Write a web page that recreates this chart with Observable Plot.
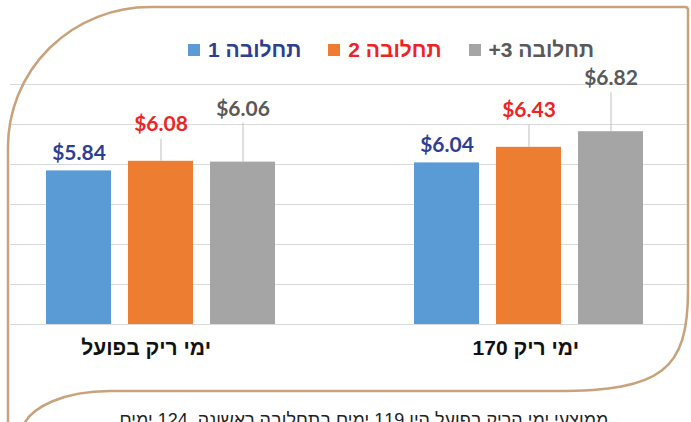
<!DOCTYPE html>
<html>
<head>
<meta charset="utf-8">
<script src="https://cdn.jsdelivr.net/npm/d3@7"></script>
<script src="https://cdn.jsdelivr.net/npm/@observablehq/plot@0.6"></script>
<style>
  body { margin: 0; background: #fff; }
  #wrap { position: relative; width: 691px; height: 422px; overflow: hidden; background: #fff; }
  #chart { position: absolute; left: 0; top: 0; }
  #legend { position: absolute; left: 188px; top: 38px; height: 24px; display: flex; align-items: center;
            font-family: "Liberation Sans", Arial, sans-serif; font-weight: bold; font-size: 21px; line-height: 24px; white-space: nowrap; }
  #legend .item { display: flex; align-items: center; margin-right: 27px; }
  #legend .sw { display: inline-block; width: 12px; height: 12px; margin-right: 8px; }
  #deco { position: absolute; left: 0; top: 0; pointer-events: none; }
</style>
</head>
<body>
<div id="wrap">
  <div id="chart"></div>
  <div id="legend"></div>
  <svg id="deco" width="691" height="422" viewBox="0 0 691 422">
    <path d="M8,424 L8,147 A142,140 0 0 1 150,7 L685,7 Q688,7 688,10 L688,290 C688,370 662,391 556,391 L110,391 C62,391 32,408 24,424"
          fill="none" stroke="#C8A27C" stroke-width="2.5"/>
    <text x="364" y="426" text-anchor="middle" direction="rtl" font-family="Liberation Sans, Arial, sans-serif" font-size="18" fill="#222">ממוצעי ימי הריק בפועל היו 119 ימים בתחלובה ראשונה, 124 ימים</text>
  </svg>
</div>
<script>
// ---- data ----
const groups = ["ימי ריק בפועל", "170 ימי ריק"];
const seriesNames = ["תחלובה 1", "תחלובה 2", "תחלובה 3+"];
const lactation1 = [5.84, 6.04];
const lactation2 = [6.08, 6.43];
const lactation3 = [6.06, 6.82];
const yTicks = [2, 3, 4, 5, 6, 7, 8];

// ---- styles ----
const barColors = ["#5B9BD5", "#ED7D31", "#A5A5A5"];
const labelColors = ["#2E3F93", "#EE2424", "#595959"];
const seriesLayout = [
  { dx: -82, labelDy: -18, leader: 0 },
  { dx: 0, labelDy: -37, leader: 22 },
  { dx: 82, labelDy: -53, leader: 39 }
];

const seriesValues = [lactation1, lactation2, lactation3];
const rows = [];
seriesNames.forEach((s, k) => groups.forEach((g, i) => rows.push({ group: g, series: s, value: seriesValues[k][i] })));

const marks = [Plot.ruleY(yTicks, { stroke: "#D9D9D9", strokeWidth: 1 })];
seriesNames.forEach((s, k) => {
  const d = rows.filter(r => r.series === s);
  const o = seriesLayout[k];
  marks.push(Plot.barY(d, { x: "group", y1: yTicks[0], y2: "value", fill: "series", dx: o.dx }));
  if (o.leader) {
    marks.push(Plot.ruleX(d, { x: "group", y1: "value", y2: "value", dx: o.dx, stroke: "#BFBFBF", strokeWidth: 1, insetBottom: o.leader }));
  }
  marks.push(Plot.text(d, {
    x: "group", y: "value", text: r => "$" + r.value.toFixed(2),
    dx: o.dx, dy: o.labelDy, fill: labelColors[k],
    fontSize: 21, fontWeight: "bold", fontFamily: "Lato, 'Open Sans', sans-serif"
  }));
});
marks.push(Plot.text(groups, {
  x: d => d, frameAnchor: "bottom", dy: 30, dx: 50, textAnchor: "end",
  fontSize: 21, fontWeight: "bold", fill: "#111", fontFamily: "'Liberation Sans', Arial, sans-serif"
}));

const chart = Plot.plot({
  width: 691,
  height: 422,
  marginTop: 84,
  marginBottom: 98,
  marginLeft: 10,
  marginRight: 4,
  style: { background: "transparent", fontFamily: "'Liberation Sans', Arial, sans-serif" },
  x: { type: "band", domain: groups, paddingInner: 0.8236, paddingOuter: 0.3304, align: 0.4825, axis: null },
  y: { domain: [yTicks[0], yTicks[yTicks.length - 1]], axis: null },
  color: { domain: seriesNames, range: barColors },
  marks
});
document.getElementById("chart").appendChild(chart);

// legend
const legend = document.getElementById("legend");
seriesNames.forEach((s, k) => {
  const item = document.createElement("span");
  item.className = "item";
  const sw = document.createElement("span");
  sw.className = "sw";
  sw.style.background = barColors[k];
  const t = document.createElement("span");
  t.setAttribute("dir", "rtl");
  t.style.color = labelColors[k];
  t.textContent = s;
  item.appendChild(sw);
  item.appendChild(t);
  legend.appendChild(item);
});
</script>
</body>
</html>
